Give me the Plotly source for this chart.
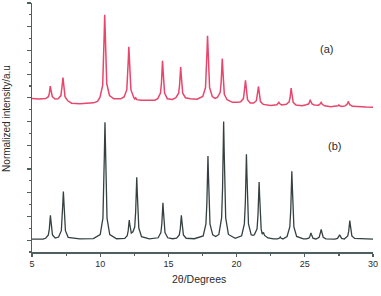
import plotly.graph_objects as go

# Pattern (b) - black (2theta in degrees, normalized intensity)
b_two_theta = [5.0, 5.8,
               6.0, 6.2, 6.27, 6.31, 6.35, 6.39, 6.43, 6.5, 6.7,
               6.95, 7.15, 7.22, 7.26, 7.3, 7.34, 7.38, 7.45, 7.65,
               8.5, 9.5,
               10.0, 10.2, 10.27, 10.31, 10.35, 10.39, 10.43, 10.5, 10.7,
               11.2,
               11.8, 11.98, 12.05, 12.09, 12.13, 12.17, 12.21, 12.28, 12.4, 12.53, 12.6, 12.64,
               12.68, 12.72, 12.76, 12.83, 13.03,
               13.6,
               14.25, 14.45, 14.52, 14.56, 14.6, 14.64, 14.68, 14.75, 14.95,
               15.3,
               15.6, 15.8, 15.87, 15.91, 15.95, 15.99, 16.03, 16.1, 16.3,
               16.9,
               17.55, 17.75, 17.82, 17.86, 17.9, 17.94, 17.98, 18.05, 18.25,
               18.47,
               18.7, 18.9, 18.97, 19.01, 19.05, 19.09, 19.13, 19.2, 19.4,
               19.9,
               20.37, 20.57, 20.64, 20.68, 20.72, 20.76, 20.8, 20.87, 21.07,
               21.2,
               21.3, 21.5, 21.57, 21.61, 21.65, 21.69, 21.73, 21.8, 21.88, 21.97, 22.05, 22.3,
               22.7,
               23.0, 23.15, 23.2, 23.25, 23.4,
               23.7, 23.9, 23.97, 24.01, 24.05, 24.09, 24.13, 24.2, 24.4,
               24.9,
               25.1, 25.3, 25.37, 25.41, 25.45, 25.49, 25.53, 25.6, 25.8,
               25.85, 26.05, 26.12, 26.16, 26.2, 26.24, 26.28, 26.35, 26.55,
               27.0,
               27.2, 27.4, 27.47, 27.51, 27.55, 27.59, 27.63, 27.7, 27.9,
               27.95, 28.15, 28.22, 28.26, 28.3, 28.34, 28.38, 28.45, 28.65,
               29.3, 30.0]
b_intensity = [1.08, 1.09,
               1.16, 1.44, 1.95, 2.60, 3.1, 2.60, 1.95, 1.44, 1.18,
               1.26, 1.80, 2.81, 4.10, 5.1, 4.10, 2.81, 1.80, 1.24,
               1.10, 1.13,
               1.47, 2.86, 5.32, 8.48, 10.95, 8.48, 5.32, 2.86, 1.47,
               1.12,
               1.14, 1.37, 1.78, 2.30, 2.7, 2.32, 1.82, 1.6, 1.7, 2.1, 3.4, 5.0,
               6.3, 4.98, 3.32, 2.02, 1.29,
               1.1,
               1.20, 1.63, 2.40, 3.38, 4.15, 3.38, 2.40, 1.63, 1.20,
               1.12,
               1.16, 1.44, 1.95, 2.60, 3.1, 2.60, 1.95, 1.44, 1.16,
               1.12,
               1.36, 2.34, 4.10, 6.35, 8.1, 6.35, 4.10, 2.34, 1.44,
               1.3,
               1.48, 2.87, 5.35, 8.52, 11.0, 8.52, 5.35, 2.87, 1.48,
               1.15,
               1.37, 2.37, 4.16, 6.46, 8.25, 6.46, 4.16, 2.37, 1.45,
               1.4,
               1.45, 1.95, 3.15, 4.70, 5.9, 4.70, 3.15, 1.95, 1.5, 1.65, 1.4, 1.18,
               1.1,
               1.1, 1.18, 1.27, 1.18, 1.1,
               1.31, 2.11, 3.54, 5.37, 6.8, 5.37, 3.54, 2.11, 1.31,
               1.1,
               1.10, 1.17, 1.30, 1.47, 1.6, 1.47, 1.30, 1.17, 1.10,
               1.11, 1.23, 1.43, 1.70, 1.9, 1.70, 1.43, 1.23, 1.11,
               1.09,
               1.09, 1.15, 1.24, 1.36, 1.45, 1.36, 1.24, 1.15, 1.09,
               1.14, 1.36, 1.76, 2.26, 2.65, 2.26, 1.76, 1.36, 1.14,
               1.09, 1.08]

# Pattern (a) - red
a_two_theta = [5.0, 5.5,
               6.0, 6.2, 6.27, 6.31, 6.34, 6.38, 6.42, 6.49, 6.69,
               6.92, 7.12, 7.19, 7.23, 7.27, 7.31, 7.35, 7.42, 7.62,
               7.9, 8.5, 9.0, 9.5, 9.8,
               9.98, 10.18, 10.25, 10.29, 10.33, 10.37, 10.41, 10.48, 10.68,
               11.0, 11.5,
               11.75, 11.95, 12.02, 12.06, 12.1, 12.14, 12.18, 12.25, 12.45,
               12.53, 12.6, 12.68, 13.0, 13.5, 14.0,
               14.22, 14.42, 14.49, 14.53, 14.57, 14.61, 14.65, 14.72, 14.92,
               15.3,
               15.55, 15.75, 15.82, 15.86, 15.9, 15.94, 15.98, 16.05, 16.25,
               16.6, 17.1,
               17.52, 17.72, 17.79, 17.83, 17.87, 17.91, 17.95, 18.02, 18.22,
               18.42,
               18.6, 18.8, 18.87, 18.91, 18.95, 18.99, 19.03, 19.1, 19.3,
               19.7, 20.1,
               20.3, 20.5, 20.57, 20.61, 20.65, 20.69, 20.73, 20.8, 21.0,
               21.2,
               21.25, 21.45, 21.52, 21.56, 21.6, 21.64, 21.68, 21.75, 21.95,
               22.5,
               22.95, 23.05, 23.1, 23.15, 23.3,
               23.65, 23.85, 23.92, 23.96, 24.0, 24.04, 24.08, 24.15, 24.35,
               24.8,
               25.1, 25.27, 25.33, 25.37, 25.4, 25.43, 25.47, 25.53, 25.7,
               26.0, 26.12, 26.2, 26.28, 26.45,
               26.9,
               27.3, 27.44, 27.5, 27.56, 27.72,
               27.95, 28.1, 28.16, 28.2, 28.24, 28.3, 28.5,
               28.9, 29.5, 30.0]
a_intensity = [12.95, 12.9,
               12.94, 13.10, 13.37, 13.73, 14.0, 13.73, 13.37, 13.10, 12.9,
               12.92, 13.19, 13.65, 14.25, 14.72, 14.25, 13.6, 13.1, 12.75,
               12.55, 12.5, 12.52, 12.58, 12.7,
               13.04, 14.05, 15.87, 18.19, 20.0, 18.2, 15.9, 14.2, 13.2,
               12.92, 12.92,
               13.08, 13.69, 14.79, 16.2, 17.3, 16.2, 14.79, 13.69, 13.05,
               12.9, 13.0, 12.85, 12.8, 12.78, 12.8,
               12.93, 13.4, 14.23, 15.3, 16.13, 15.3, 14.23, 13.4, 12.93,
               12.87,
               13.01, 13.39, 14.06, 14.93, 15.6, 14.93, 14.06, 13.39, 13.01,
               12.92, 12.88,
               13.11, 13.86, 15.2, 16.9, 18.24, 16.9, 15.2, 13.86, 13.11,
               12.95,
               13.05, 13.47, 14.34, 15.45, 16.32, 15.4, 14.2, 13.3, 12.84,
               12.62, 12.62,
               12.67, 12.94, 13.4, 14.0, 14.47, 14.0, 13.35, 12.85, 12.57,
               12.52,
               12.56, 12.76, 13.13, 13.6, 13.96, 13.55, 13.05, 12.68, 12.45,
               12.36,
               12.42, 12.52, 12.62, 12.52, 12.4,
               12.46, 12.66, 13.01, 13.47, 13.83, 13.45, 12.98, 12.62, 12.4,
               12.33,
               12.42, 12.48, 12.59, 12.74, 12.85, 12.74, 12.59, 12.48, 12.4,
               12.38, 12.48, 12.62, 12.46, 12.33,
               12.26,
               12.28, 12.34, 12.4, 12.33, 12.27,
               12.32, 12.45, 12.57, 12.7, 12.56, 12.42, 12.29,
               12.24, 12.22, 12.2]

assert len(b_two_theta) == len(b_intensity), (len(b_two_theta), len(b_intensity))
assert len(a_two_theta) == len(a_intensity), (len(a_two_theta), len(a_intensity))

x_tick_values = [5, 10, 15, 20, 25, 30]
x_tick_labels = ["5", "10", "15", "20", "25", "30"]

series_labels = ["(a)", "(b)"]

AXIS = "#4f5e5e"
TXT = "#2b2b2b"
FONT = "Liberation Sans, Arial, sans-serif"

fig = go.Figure()
fig.add_trace(go.Scatter(x=b_two_theta, y=b_intensity, mode="lines",
                         line=dict(color="#354141", width=1.3), showlegend=False,
                         hoverinfo="skip"))
fig.add_trace(go.Scatter(x=a_two_theta, y=a_intensity, mode="lines",
                         line=dict(color="#e8466c", width=1.5), showlegend=False,
                         hoverinfo="skip"))

fig.update_layout(
    width=381, height=296,
    margin=dict(l=32, r=8, t=3, b=44),
    plot_bgcolor="white", paper_bgcolor="white",
    font=dict(family=FONT, size=9, color=TXT),
    xaxis=dict(range=[5, 30], showgrid=False, zeroline=False,
               showline=True, linecolor=AXIS, linewidth=1.5,
               tickmode="array", tickvals=x_tick_values, ticktext=x_tick_labels,
               ticks="outside", ticklen=3, tickwidth=1.2, tickcolor=AXIS,
               tickfont=dict(size=9, color=TXT, family=FONT),
               minor=dict(dtick=2.5, tick0=5, ticks="outside", ticklen=2,
                          tickwidth=1.2, tickcolor=AXIS, showgrid=False),
               fixedrange=True),
    yaxis=dict(range=[0, 21], showgrid=False, zeroline=False,
               showline=True, linecolor=AXIS, linewidth=1.5,
               tick0=1, dtick=2, ticks="outside", ticklen=4, tickwidth=1.2,
               tickcolor=AXIS, showticklabels=False,
               minor=dict(dtick=1, tick0=0, ticks="outside", ticklen=2,
                          tickwidth=1.2, tickcolor=AXIS, showgrid=False),
               fixedrange=True),
    annotations=[
        dict(x=26.57, y=17.1, xref="x", yref="y", text=series_labels[0], showarrow=False,
             font=dict(size=11, color=TXT, family=FONT)),
        dict(x=27.2, y=8.9, xref="x", yref="y", text=series_labels[1], showarrow=False,
             font=dict(size=11, color=TXT, family=FONT)),
        dict(x=0.49, y=-0.108, xref="paper", yref="paper", text="2θ/Degrees",
             showarrow=False, font=dict(size=10.5, color=TXT, family=FONT),
             xanchor="center", yanchor="middle"),
        dict(x=-0.073, y=0.535, xref="paper", yref="paper",
             text="Normalized intensity/a.u", textangle=-90, showarrow=False,
             font=dict(size=10, color=TXT, family=FONT),
             xanchor="center", yanchor="middle"),
    ],
)

fig.write_html("out.html", config={"displayModeBar": False, "staticPlot": True},
               post_script="document.body.style.margin='0';document.body.style.overflow='hidden';")
